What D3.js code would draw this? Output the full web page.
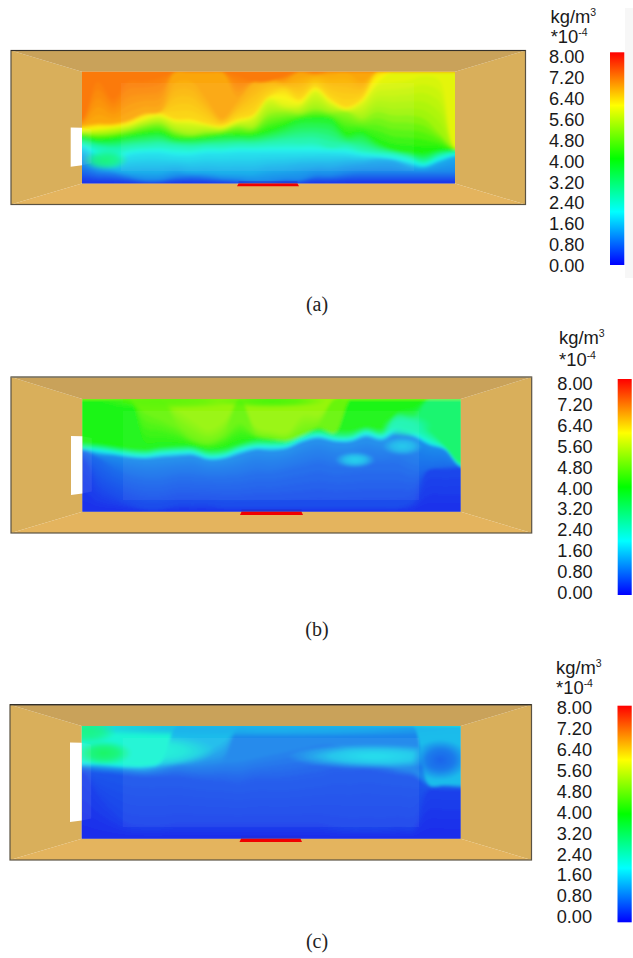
<!DOCTYPE html>
<html><head><meta charset="utf-8">
<script src="https://cdn.jsdelivr.net/npm/d3@7/dist/d3.min.js"></script>
<style>html,body{margin:0;padding:0;background:#fff}svg{display:block}</style></head>
<body><svg id="c" width="633" height="958"></svg>
<script>
// Concentration colour scale (x10^-4 kg/m3)
const tickLabels = ["0.00","0.80","1.60","2.40","3.20","4.00","4.80","5.60","6.40","7.20","8.00"];
const tickValues = [0,0.8,1.6,2.4,3.2,4,4.8,5.6,6.4,7.2,8];
const rampStops = [0,2,4,6,8];
const rampColors = ["#0000ff","#00ffff","#00ff00","#ffff00","#ff0000"];

// Each panel: concentration contours (low to high) and the height (% of the section)
// of that contour, read at 25 stations along the room. 100 = contour not present there.
const aBase = 0.3;
const aLevels = [1.05,1.4,1.9,2.6,4,5.2,5.8,6.3,6.7,7.1];
const aHeights = [
[15,10,9,6,3,3,6,7,6,4,3,1,1,3,3,7,7,9,10,10,10,10,10,10,10],
[25,16,12,10,10,10,12,10,10,9,9,9,12,13,15,16,16,18,19,21,21,16,14,19,24],
[33,24,18,25,27,27,25,25,27,27,28,28,28,28,28,28,28,27,25,24,22,19,16,21,25],
[36,33,31,33,34,35,34,33,34,34,35,35,36,37,37,37,33,34,30,28,27,24,19,25,28],
[42,39,40,42,44,45,40,40,41,43,43,43,46,51,57,58,57,43,45,36,30,28,27,30,30],
[45,44,45,48,52,54,47,44,46,47,51,50,62,64,63,67,64,64,58,64,61,61,58,45,31],
[47,48,50,52,57,60,55,54,52,50,55,59,75,70,70,82,72,66,72,87,90,92,96,92,33],
[50,52,52,55,61,63,58,58,54,52,58,62,78,84,76,87,76,69,76,99,100,100,100,100,100],
[52,54,54,57,63,64,90,91,75,58,73,90,94,90,94,97,97,99,91,100,100,100,100,100,100],
[57,91,75,91,91,94,100,100,100,100,96,91,91,96,100,99,100,100,100,100,100,100,100,100,100]
];
// Local patches: station, height, half-width (stations), half-height (%), concentration
const aSpots = [[1.5,21,1.5,9,3.0]];

const bBase = 0.25;
const bLevels = [0.5,0.8,1.1,2.3,3.1,3.9,4.7,5.1];
const bHeights = [
[46,22,13,7,3,3,6,6,6,4,4,4,4,4,4,4,4,4,4,4,4,9,37,37,38],
[53,47,37,31,28,28,31,31,30,30,31,34,34,37,40,43,40,41,43,43,43,37,38,40,41],
[55,50,49,47,46,47,48,49,45,46,50,54,53,55,61,64,61,61,65,62,68,65,58,55,40],
[56,55,53,51,50,52,53,53,49,50,55,58,58,59,65,68,65,65,70,67,75,70,62,56,41],
[59,58,56,54,53,55,56,56,52,53,58,61,61,62,68,71,68,68,73,70,85,80,72,58,43],
[61,60,58,56,55,57,58,58,55,56,60,64,64,65,70,73,72,72,75,74,88,92,100,100,100],
[100,100,100,100,87,81,74,64,61,67,78,68,65,63,68,75,70,100,100,100,100,100,100,100,100],
[100,100,100,100,100,100,90,80,72,80,100,75,71,70,85,85,100,100,100,100,100,100,100,100,100]
];
const bSpots = [[5.5,98,4.5,7,4.6],[12,98,3.5,6,4.4],[17.3,46,1.3,7,1.7],[20.3,58,1.3,8,1.6],[20.6,76,1.6,10,2.5]];

const cBase = 0.2;
const cLevels = [0.45,0.6,1.0,1.5,2.2];
const cHeights = [
[59,39,24,14,12,12,14,14,14,14,14,14,14,14,14,14,11,9,9,9,11,11,43,43,43],
[60,58,57,55,54,54,54,52,50,49,47,50,50,50,52,54,58,58,60,58,56,54,45,45,45],
[64,62,61,60,59,61,64,64,65,67,68,71,74,77,80,83,83,77,71,67,62,59,49,48,46],
[65,65,64,63,63,66,68,72,78,86,100,100,100,100,100,100,100,100,100,100,100,100,48,48,48],
[68,67,66,65,65,69,100,100,100,100,100,100,100,100,100,100,100,100,100,100,100,100,100,100,100]
];
const cSpots = [[12,98,14,8,1.4],[18.5,73,5.5,11,1.8],[22.7,70,1.8,18,0.7],[4.5,78,4,14,2.2],[1.4,76,1.8,11,3.2],[0.4,95,1.8,11,2.9]];

const panels = [
 {name:"(a)",base:aBase,levels:aLevels,heights:aHeights,spots:aSpots,
  room:[11,50.5,525.5,204.5],field:[82,71.8,455,183.5],inner:[121,83,414,171],win:[70.7,127.5,166.8],
  heater:[237,299,183.5,186.3],bar:[610,624.3,52.3,265],lab:[549,56.5,265.7],head:[550.5,22.7,550.7,42.7],cap:305,strip:true},
 {name:"(b)",base:bBase,levels:bLevels,heights:bHeights,spots:bSpots,
  room:[11,377,531.7,533],field:[82.3,399,460.7,511.7],inner:[123,411,419,500],win:[71,436,495],
  heater:[240,303,511.7,515],bar:[617.7,631.7,379,595],lab:[557.3,383.3,592.7],head:[559,344,559,366],cap:630},
 {name:"(c)",base:cBase,levels:cLevels,heights:cHeights,spots:cSpots,
  room:[10,704.7,531.5,860],field:[81.7,726,460.7,838.7],inner:[122.7,738,419,827],win:[70,742.5,822],
  heater:[239.5,302,838.7,842],bar:[617.5,631.7,705.7,922.3],lab:[556.7,707.8,916.7],head:[556,674,556,693.5],cap:942}
];

const SUB = 5;
const color = d3.scaleLinear().domain(rampStops).range(rampColors).clamp(true);
const svg = d3.select("#c");
const defs = svg.append("defs");
const flt = defs.append("filter").attr("id","soft").attr("filterUnits","userSpaceOnUse")
  .attr("x",0).attr("y",0).attr("width",633).attr("height",958);
flt.append("feGaussianBlur").attr("stdDeviation",1.6);
const grad = defs.append("linearGradient").attr("id","ramp").attr("x1",0).attr("x2",0).attr("y1",1).attr("y2",0);
rampStops.forEach(v=>grad.append("stop").attr("offset",v/8).attr("stop-color",color(v)));

const pts = a => a.map(p=>p.join(",")).join(" ");

panels.forEach((P,pi)=>{
  const g = svg.append("g");
  const [rx0,ry0,rx1,ry1]=P.room, [fx0,fy0,fx1,fy1]=P.field;
  g.append("polygon").attr("points",pts([[rx0,ry0],[fx0,fy0],[fx0,fy1],[rx0,ry1]])).attr("fill","#d9af5b");
  g.append("polygon").attr("points",pts([[rx1,ry0],[fx1,fy0],[fx1,fy1],[rx1,ry1]])).attr("fill","#d9af5b");
  g.append("polygon").attr("points",pts([[rx0,ry0],[rx1,ry0],[fx1,fy0],[fx0,fy0]])).attr("fill","#c9a25a");
  g.append("polygon").attr("points",pts([[rx0,ry1],[rx1,ry1],[fx1,fy1],[fx0,fy1]])).attr("fill","#e4b45e");
  g.append("rect").attr("x",fx0).attr("y",fy0).attr("width",fx1-fx0).attr("height",fy1-fy0).attr("fill","#d9af5b");

  // concentration field: contour fills, with shading between neighbouring contours
  const x = d3.scaleLinear().domain([0,24]).range([fx0,fx1]);
  const y = d3.scaleLinear().domain([0,100]).range([fy1,fy0]);
  const clipId = "clip"+pi;
  defs.append("clipPath").attr("id",clipId).append("rect")
    .attr("x",fx0).attr("y",fy0).attr("width",fx1-fx0).attr("height",fy1-fy0);
  const clip = g.append("g").attr("clip-path",`url(#${clipId})`).attr("opacity",0.88);
  const fg = clip.append("g").attr("filter","url(#soft)");
  fg.append("rect").attr("x",fx0-12).attr("y",fy0-12).attr("width",fx1-fx0+24).attr("height",fy1-fy0+24).attr("fill",color(P.base));
  const area = d3.area().x(d=>x(d[0])).y0(y(115)).y1(d=>y(d[1])).curve(d3.curveCatmullRom.alpha(0.5));
  const draw = (h,val)=>{
    const line = h.map((v,i)=>[i,v]);
    line.unshift([-2,h[0]],[-1,h[0]]); line.push([25,h[h.length-1]],[26,h[h.length-1]]);
    fg.append("path").attr("d",area(line)).attr("fill",color(val));
  };
  const zero = P.heights[0].map(()=>0);
  P.heights.forEach((h,k)=>{
    const lo = k? P.heights[k-1] : zero, vlo = k? P.levels[k-1] : P.base;
    for(let s=1;s<=SUB;s++){
      const t=s/SUB;
      draw(h.map((v,i)=> v>=100 ? 100 : lo[i]+(v-lo[i])*t), vlo+(P.levels[k]-vlo)*t);
    }
  });
  P.spots.forEach((d,si)=>{
    const id=`spot${pi}_${si}`;
    const rg=defs.append("radialGradient").attr("id",id);
    rg.append("stop").attr("offset",0).attr("stop-color",color(d[4])).attr("stop-opacity",1);
    rg.append("stop").attr("offset",0.5).attr("stop-color",color(d[4])).attr("stop-opacity",0.75);
    rg.append("stop").attr("offset",1).attr("stop-color",color(d[4])).attr("stop-opacity",0);
    fg.append("ellipse").attr("cx",x(d[0])).attr("cy",y(d[1]))
      .attr("rx",x(d[2])-x(0)).attr("ry",y(0)-y(d[3])).attr("fill",`url(#${id})`);
  });

  const [ix0,iy0,ix1,iy1]=P.inner;
  g.append("rect").attr("x",ix0).attr("y",iy0).attr("width",ix1-ix0).attr("height",iy1-iy0).attr("fill","#fff").attr("opacity",0.05);

  const [wx,wy0,wy1]=P.win;
  g.append("polygon").attr("points",pts([[wx,wy0],[fx0,wy0+0.3],[fx0,wy1-1.5],[wx,wy1]])).attr("fill","#fff");
  g.append("polygon").attr("points",pts([[fx0,wy0+0.3],[fx0+9.5,wy0+2],[fx0+9.5,wy1-3.5],[fx0,wy1-1.5]])).attr("fill","#fff").attr("opacity",0.08);

  const [hx0,hx1,hy0,hy1]=P.heater;
  g.append("rect").attr("x",hx0+1.5).attr("y",hy0-2.5).attr("width",hx1-hx0-3).attr("height",2.5).attr("fill","#2233cc").attr("opacity",0.5);
  g.append("polygon").attr("points",pts([[hx0+1.5,hy0],[hx1-1.5,hy0],[hx1,hy1],[hx0,hy1]])).attr("fill","#f00000");

  g.append("rect").attr("x",rx0).attr("y",ry0).attr("width",rx1-rx0).attr("height",ry1-ry0)
    .attr("fill","none").attr("stroke","#5a5242").attr("stroke-width",1.2);
  g.append("line").attr("x1",rx0).attr("x2",rx1).attr("y1",ry0).attr("y2",ry0).attr("stroke",pi==1?"#8a8678":"#33302a").attr("stroke-width",1.2);

  const [bx0,bx1,by0,by1]=P.bar;
  if(P.strip) g.append("rect").attr("x",625).attr("y",8).attr("width",8).attr("height",270).attr("fill","#f7f7f7");
  g.append("rect").attr("x",bx0).attr("y",by0).attr("width",bx1-bx0).attr("height",by1-by0).attr("fill","url(#ramp)");

  const [lx,ly0,ly1]=P.lab;
  const ty = d3.scaleLinear().domain([8,0]).range([ly0,ly1]);
  const font = "'Liberation Sans',Arial,sans-serif";
  g.append("g").selectAll("text").data(tickValues).join("text")
    .attr("x",lx).attr("y",d=>ty(d)).attr("dy","0.36em")
    .attr("font-family",font).attr("font-size",18.2).attr("fill","#1a1a1a")
    .text((d,i)=>tickLabels[i]);

  const [h1x,h1y,h2x,h2y]=P.head;
  const t1 = g.append("text").attr("x",h1x).attr("y",h1y).attr("font-family",font).attr("font-size",18.4).attr("fill","#1a1a1a");
  t1.append("tspan").text("kg/m");
  t1.append("tspan").attr("dy",-7).attr("font-size",10.5).text("3");
  const t2 = g.append("text").attr("x",h2x).attr("y",h2y).attr("font-family",font).attr("font-size",18.4).attr("fill","#1a1a1a");
  t2.append("tspan").text("*10");
  t2.append("tspan").attr("dy",-7).attr("font-size",10.5).text("-4");

  g.append("text").attr("x",317).attr("y",P.cap+6).attr("text-anchor","middle")
    .attr("font-family","'Liberation Serif',serif").attr("font-size",20).attr("fill","#222").text(P.name);
});
</script></body></html>
